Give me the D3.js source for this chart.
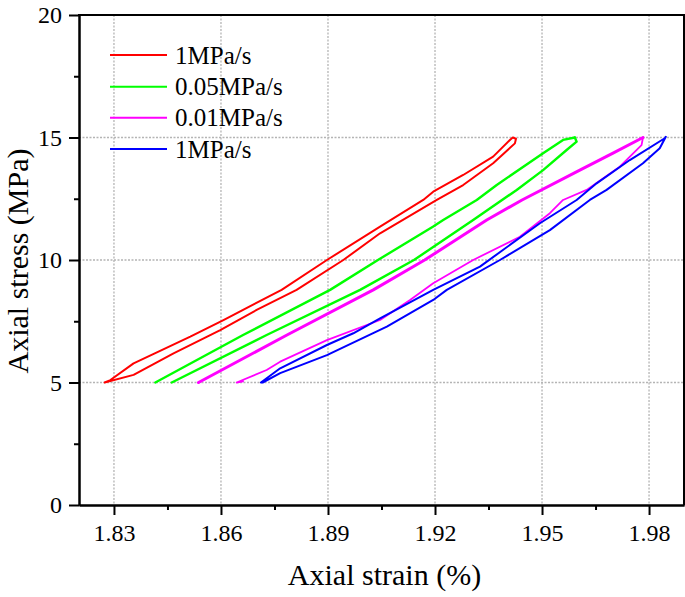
<!DOCTYPE html>
<html><head><meta charset="utf-8">
<script src="https://cdn.jsdelivr.net/npm/d3@7"></script>
<style>body{margin:0;background:#fff}svg{display:block}text{font-family:"Liberation Serif","Times New Roman",serif}</style>
</head><body><svg id="c" width="685" height="597"></svg>
<script>
const xTicks=[1.83,1.86,1.89,1.92,1.95,1.98];
const xMinor=[1.845,1.875,1.905,1.935,1.965];
const yTicks=[0,5,10,15,20];
const yMinor=[2.5,7.5,12.5,17.5];
const legendLabels=["1MPa/s","0.05MPa/s","0.01MPa/s","1MPa/s"];
const colors=["#ff0000","#00ff00","#ff00ff","#0000ff"];

// [strain %, stress MPa]
const redLoop=[[1.8274,5.0],[1.8355,5.31],[1.8467,6.19],[1.8598,7.14],[1.8700,7.96],[1.8812,8.78],[1.8943,10.0],[1.9046,11.09],[1.9205,12.45],[1.9279,13.06],[1.9363,13.95],[1.9424,14.76],[1.9427,14.95],
 [1.9418,15.0],[1.9410,14.9],[1.9363,14.22],[1.9279,13.47],[1.9195,12.79],[1.9167,12.45],[1.9046,11.36],[1.8897,10.0],[1.8770,8.78],[1.8607,7.55],[1.8514,6.87],[1.8355,5.78],[1.8290,5.1],[1.8274,5.0]];
const greenUpper=[[1.8416,5.0],[1.8662,6.94],[1.8906,8.78],[1.9040,10.0],[1.9194,11.36],[1.9223,11.63],[1.9317,12.45],[1.9373,13.06],[1.9503,14.36],[1.9559,14.90],[1.9592,15.0]];
const greenLower=[[1.9592,15.0],[1.9597,14.83],[1.9569,14.49],[1.9503,13.67],[1.9429,12.86],[1.9307,11.63],[1.9141,10.0],[1.8990,8.78],[1.8728,6.94],[1.8462,5.0]];
const magentaUpper=[[1.8537,5.0],[1.8785,6.94],[1.9027,8.78],[1.9171,10.0],[1.9345,11.63],[1.9444,12.45],[1.9606,13.67],[1.9699,14.36],[1.9783,15.0]];
const magentaLower=[[1.9783,15.0],[1.9779,14.69],[1.9718,13.81],[1.9625,12.86],[1.9559,12.45],[1.9522,11.91],[1.9438,10.95],[1.9307,10.0],[1.9195,9.05],[1.9130,8.37],[1.9046,7.55],[1.8897,6.73],[1.8766,5.85],[1.8728,5.51],[1.8644,5.0],[1.8662,5.05]];
const blueLoop=[[1.8712,5.0],[1.8766,5.58],[1.8897,6.53],[1.8971,7.01],[1.9046,7.62],[1.9195,8.78],[1.9326,9.73],[1.9494,11.50],[1.9597,12.45],[1.9653,13.13],[1.9746,14.08],[1.9844,14.97],[1.9847,15.03],
 [1.9830,14.56],[1.9783,13.95],[1.9681,12.86],[1.9634,12.45],[1.9522,11.22],[1.9382,10.0],[1.9233,8.78],[1.9195,8.37],[1.9065,7.28],[1.8897,6.12],[1.8766,5.38],[1.8717,5.0],[1.8712,5.0]];

const L=79,R=684,T=15,B=505;
const FONT='"Liberation Serif","Times New Roman",serif';
const svg=d3.select("#c");
const x=d3.scaleLinear().domain([1.8202,1.9898]).range([L,R]);
const y=d3.scaleLinear().domain([0,20]).range([B,T]);

// grid
const grid=svg.append("g").attr("stroke","#b4b4b4").attr("stroke-width",1.3).attr("stroke-dasharray","2,1.5");
grid.selectAll(".gx").data(xTicks).enter().append("line")
 .attr("x1",d=>x(d)).attr("x2",d=>x(d)).attr("y1",T).attr("y2",B);
grid.selectAll(".gy").data(yTicks.filter(d=>d>0&&d<20)).enter().append("line")
 .attr("x1",L).attr("x2",R).attr("y1",d=>y(d)).attr("y2",d=>y(d));

// series
const line=d3.line().x(d=>x(d[0])).y(d=>y(d[1]));
const plot=svg.append("g").attr("fill","none").attr("stroke-linejoin","round").attr("stroke-linecap","round");
plot.append("path").datum(redLoop).attr("d",line).attr("stroke",colors[0]).attr("stroke-width",2);
plot.append("path").datum(greenUpper).attr("d",line).attr("stroke",colors[1]).attr("stroke-width",2.4);
plot.append("path").datum(greenLower).attr("d",line).attr("stroke",colors[1]).attr("stroke-width",2.4);
plot.append("path").datum(magentaUpper).attr("d",line).attr("stroke",colors[2]).attr("stroke-width",3);
plot.append("path").datum(magentaLower).attr("d",line).attr("stroke",colors[2]).attr("stroke-width",1.8);
plot.append("path").datum(blueLoop).attr("d",line).attr("stroke",colors[3]).attr("stroke-width",2);

// axes
svg.append("g").attr("transform",`translate(0,${B})`)
 .call(d3.axisBottom(x).tickValues(xTicks).tickSize(10).tickSizeOuter(0).tickPadding(9).tickFormat(d3.format(".2f")));
svg.append("g").attr("transform",`translate(0,${B})`)
 .call(d3.axisBottom(x).tickValues(xMinor).tickSize(5).tickSizeOuter(0).tickFormat(""));
svg.append("g").attr("transform",`translate(${L},0)`)
 .call(d3.axisLeft(y).tickValues(yTicks).tickSize(10).tickSizeOuter(0).tickPadding(7));
svg.append("g").attr("transform",`translate(${L},0)`)
 .call(d3.axisLeft(y).tickValues(yMinor).tickSize(5).tickSizeOuter(0).tickFormat(""));
svg.selectAll("g").attr("font-family",null).attr("font-size",null);
svg.selectAll(".domain").attr("stroke","#000").attr("stroke-width",2);
svg.selectAll(".tick line").attr("stroke","#000").attr("stroke-width",2);
svg.selectAll(".tick text").style("font-family",FONT).style("font-size","24px").attr("fill","#000");
// frame top/right
svg.append("line").attr("x1",L-1).attr("x2",R+1).attr("y1",T).attr("y2",T).attr("stroke","#000").attr("stroke-width",2);
svg.append("line").attr("x1",R).attr("x2",R).attr("y1",T).attr("y2",B).attr("stroke","#000").attr("stroke-width",2);

// titles
svg.append("text").attr("x",(L+R)/2+3).attr("y",585).attr("text-anchor","middle")
 .style("font-family",FONT).style("font-size","30px").text("Axial strain (%)");
svg.append("text").attr("transform",`translate(28,${(T+B)/2+1}) rotate(-90)`).attr("text-anchor","middle")
 .style("font-family",FONT).style("font-size","30px").text("Axial stress (MPa)");

// legend
const legY=[55,86.7,117.7,149];
const lg=svg.append("g");
legendLabels.forEach((t,i)=>{
 lg.append("line").attr("x1",110).attr("x2",167).attr("y1",legY[i]).attr("y2",legY[i]).attr("stroke",colors[i]).attr("stroke-width",2);
 lg.append("text").attr("x",175).attr("y",legY[i]+8.5).style("font-family",FONT).style("font-size","25px").text(t);
});
</script></body></html>
